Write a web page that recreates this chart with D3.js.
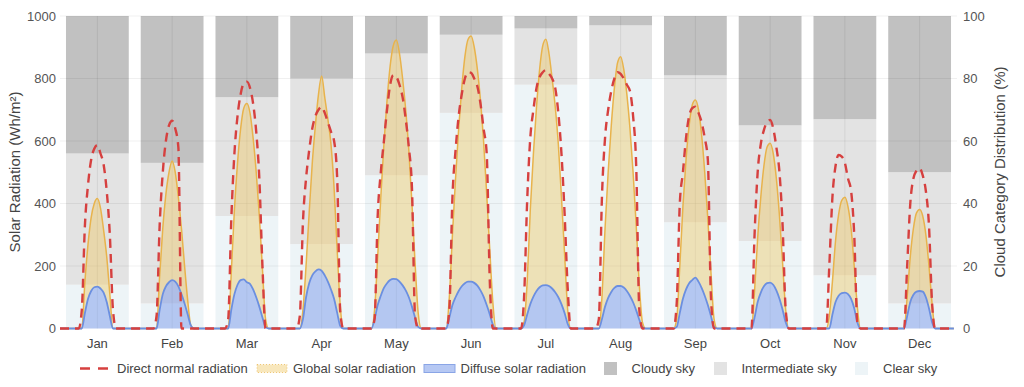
<!DOCTYPE html>
<html><head><meta charset="utf-8">
<script src="https://cdn.jsdelivr.net/npm/d3@7"></script>
<style>
body{margin:0;background:#fff;}
text{font-family:Arial,"Liberation Sans",Helvetica,sans-serif;}
</style>
</head><body>
<svg id="c" width="1024" height="387"></svg>
<script>
const months = ["Jan","Feb","Mar","Apr","May","Jun","Jul","Aug","Sep","Oct","Nov","Dec"];
const radTicks = [0,200,400,600,800,1000];
const pctTicks = [0,20,40,60,80,100];

// Cloud category distribution (%)
const clearSky = [14,8,36,27,49,69,78,80,34,28,17,8];
const intermediateSky = [42,45,38,53,39,25,18,17,47,37,50,42];
const cloudySky = [44,47,26,20,12,6,4,3,19,35,33,50];

// Average daily profiles, hours 0..23 (Wh/m²)
const globalRad = [
 [0,0,0,0,0,0,0,0,150,270,355,400,416,385,315,230,110,0,0,0,0,0,0,0],
 [0,0,0,0,0,0,0,0,170,320,430,500,536,500,420,320,200,90,10,0,0,0,0,0],
 [0,0,0,0,0,0,0,180,380,530,640,705,720,690,610,500,360,190,30,0,0,0,0,0],
 [0,0,0,0,0,0,60,200,370,530,650,750,808,740,670,590,450,250,70,0,0,0,0,0],
 [0,0,0,0,0,60,230,420,590,730,840,905,923,880,800,700,570,400,210,50,0,0,0,0],
 [0,0,0,0,0,100,300,480,640,770,870,925,936,900,830,730,600,430,250,80,0,0,0,0],
 [0,0,0,0,0,20,150,380,560,710,830,905,926,880,800,710,590,420,240,60,0,0,0,0],
 [0,0,0,0,0,0,100,320,500,650,770,850,870,830,750,640,500,330,140,20,0,0,0,0],
 [0,0,0,0,0,0,30,200,390,540,650,715,731,700,620,500,350,180,30,0,0,0,0,0],
 [0,0,0,0,0,0,0,120,290,420,520,580,593,560,480,360,210,60,0,0,0,0,0,0],
 [0,0,0,0,0,0,0,40,150,280,365,410,420,390,320,200,70,0,0,0,0,0,0,0],
 [0,0,0,0,0,0,0,0,100,230,320,370,381,360,300,200,80,0,0,0,0,0,0,0]
];
const diffuseRad = [
 [0,0,0,0,0,0,0,0,50,95,120,132,134,128,115,85,40,0,0,0,0,0,0,0],
 [0,0,0,0,0,0,0,0,60,110,135,148,155,150,135,110,80,45,10,0,0,0,0,0],
 [0,0,0,0,0,0,0,60,110,140,155,157,148,143,125,100,70,35,5,0,0,0,0,0],
 [0,0,0,0,0,0,30,100,145,170,183,189,185,170,150,125,95,50,8,0,0,0,0,0],
 [0,0,0,0,0,30,75,105,130,145,155,159,158,150,138,122,100,70,35,5,0,0,0,0],
 [0,0,0,0,0,35,75,100,120,135,145,150,150,146,137,122,102,75,45,12,0,0,0,0],
 [0,0,0,0,0,10,45,78,102,120,132,138,139,136,128,116,100,78,50,15,0,0,0,0],
 [0,0,0,0,0,0,30,70,98,117,130,136,136,131,120,104,84,58,28,4,0,0,0,0],
 [0,0,0,0,0,0,5,50,95,125,145,155,163,150,130,105,75,40,5,0,0,0,0,0],
 [0,0,0,0,0,0,0,35,85,115,135,145,147,140,122,95,60,20,0,0,0,0,0,0],
 [0,0,0,0,0,0,0,0,45,85,105,113,115,110,95,65,20,0,0,0,0,0,0,0],
 [0,0,0,0,0,0,0,0,40,85,108,118,120,118,100,65,20,0,0,0,0,0,0,0]
];
const directNormalRad = [
 [0,0,0,0,0,0,0,60,330,460,540,575,587,560,525,440,300,60,0,0,0,0,0,0],
 [0,0,0,0,0,0,0,40,330,500,600,650,665,640,580,0,0,0,0,0,0,0,0,0],
 [0,0,0,0,0,0,30,350,560,680,750,785,790,770,720,630,480,200,0,0,0,0,0,0],
 [0,0,0,0,0,40,340,480,570,640,680,700,710,690,660,630,600,480,50,0,0,0,0,0],
 [0,0,0,0,0,30,360,500,600,700,780,811,805,780,740,670,580,450,40,0,0,0,0,0],
 [0,0,0,0,0,60,420,570,680,750,800,820,818,800,775,720,640,560,150,0,0,0,0,0],
 [0,0,0,0,0,100,410,610,700,770,805,820,827,815,800,770,690,560,370,130,0,0,0,0],
 [0,0,0,0,0,30,420,610,700,760,800,820,815,800,780,760,680,520,60,0,0,0,0,0],
 [0,0,0,0,0,0,80,400,500,610,680,705,710,690,660,610,540,100,0,0,0,0,0,0],
 [0,0,0,0,0,0,0,300,500,590,635,660,667,640,580,500,330,60,0,0,0,0,0,0],
 [0,0,0,0,0,0,0,200,420,520,555,550,530,480,440,300,20,0,0,0,0,0,0,0],
 [0,0,0,0,0,0,0,0,200,400,480,505,513,490,440,330,80,0,0,0,0,0,0,0]
];

const svg = d3.select("#c");
const X0 = 60, X1 = 957, Y0 = 328.5, Y1 = 16;
const x = d3.scaleBand().domain(months).range([X0, X1]).paddingInner(0.16).paddingOuter(0.08);
const y = d3.scaleLinear().domain([0,1000]).range([Y0, Y1]);
const yR = d3.scaleLinear().domain([0,100]).range([Y0, Y1]);
const xh = d3.scaleLinear().domain([0, 288]).range([X0, X1]);

// stacked cloud bars
const rows = months.map((m,i)=>({month:m, clear:clearSky[i], intermediate:intermediateSky[i], cloudy:cloudySky[i]}));
const stack = d3.stack().keys(["clear","intermediate","cloudy"])(rows);
const barColor = {clear:"#edf4f7", intermediate:"#e3e3e3", cloudy:"#c1c1c1"};
svg.append("g").selectAll("g").data(stack).join("g")
  .attr("fill", d=>barColor[d.key])
  .selectAll("rect").data(d=>d).join("rect")
  .attr("x", d=>x(d.data.month)).attr("width", x.bandwidth())
  .attr("y", d=>yR(d[1])).attr("height", d=>yR(d[0])-yR(d[1]));

// grid
const grid = svg.append("g");
grid.selectAll("line.h").data(radTicks.slice(1)).join("line")
  .attr("x1", X0).attr("x2", X1).attr("y1", d=>y(d)).attr("y2", d=>y(d))
  .attr("stroke", "rgba(0,0,0,0.06)").attr("stroke-width", 1);
grid.selectAll("line.v").data(months).join("line")
  .attr("x1", d=>x(d)+x.bandwidth()/2).attr("x2", d=>x(d)+x.bandwidth()/2)
  .attr("y1", Y1).attr("y2", Y0)
  .attr("stroke", "rgba(0,0,0,0.07)").attr("stroke-width", 1);

// hourly series flattened
const flat = arr => arr.flatMap((day, mi) => day.map((v, h) => ({i: mi*24 + h, v})));
const gData = flat(globalRad), dData = flat(diffuseRad), nData = flat(directNormalRad);
const gdData = gData.map((d,k)=>({i:d.i, v:d.v, lo:dData[k].v}));

const area = d3.area().x(d=>xh(d.i)).y0(y(0)).y1(d=>y(d.v)).curve(d3.curveMonotoneX);
const bandArea = d3.area().x(d=>xh(d.i)).y0(d=>y(d.lo)).y1(d=>y(d.v)).curve(d3.curveMonotoneX);
const line = d3.line().x(d=>xh(d.i)).y(d=>y(d.v)).curve(d3.curveMonotoneX);

svg.append("path").datum(gdData).attr("d", bandArea).attr("fill", "rgba(238,198,95,0.42)");
svg.append("path").datum(dData).attr("d", area).attr("fill", "rgba(110,145,232,0.45)");
svg.append("path").datum(gData).attr("d", line).attr("fill", "none").attr("stroke", "#e8b34c").attr("stroke-width", 1.5);
svg.append("path").datum(dData).attr("d", line).attr("fill", "none").attr("stroke", "#6b8fe0").attr("stroke-width", 1.8);
svg.append("path").datum(nData).attr("d", line).attr("fill", "none").attr("stroke", "#d6403f")
  .attr("stroke-width", 2.4).attr("stroke-dasharray", "9,6");

// axes
const textCol = "#555";
const lAxis = svg.append("g").attr("transform", `translate(${X0},0)`)
  .call(d3.axisLeft(y).tickValues(radTicks).tickFormat(d3.format("d")).tickSize(0).tickPadding(4));
lAxis.select(".domain").remove();
lAxis.selectAll("text").attr("font-size", 13).attr("fill", textCol);
const rAxis = svg.append("g").attr("transform", `translate(${X1},0)`)
  .call(d3.axisRight(yR).tickValues(pctTicks).tickFormat(d3.format("d")).tickSize(0).tickPadding(6));
rAxis.select(".domain").remove();
rAxis.selectAll("text").attr("font-size", 13).attr("fill", textCol);
const bAxis = svg.append("g").attr("transform", `translate(0,${Y0})`)
  .call(d3.axisBottom(x).tickSize(0).tickPadding(10));
bAxis.select(".domain").remove();
bAxis.selectAll("text").attr("font-size", 13).attr("fill", "#444");

svg.append("text").attr("transform", "translate(20,172) rotate(-90)").attr("text-anchor","middle")
  .attr("font-size", 15).attr("fill", "#444").text("Solar Radiation (Wh/m²)");
svg.append("text").attr("transform", "translate(1005,172) rotate(-90)").attr("text-anchor","middle")
  .attr("font-size", 15).attr("fill", "#444").text("Cloud Category Distribution (%)");

// legend
const lg = svg.append("g");
const ly = 368.5;
lg.append("line").attr("x1", 80).attr("x2", 109).attr("y1", ly).attr("y2", ly)
  .attr("stroke", "#d6403f").attr("stroke-width", 2.4).attr("stroke-dasharray", "10,8");
lg.append("rect").attr("x", 257).attr("y", ly-4).attr("width", 30).attr("height", 8)
  .attr("fill", "rgba(238,198,95,0.42)").attr("stroke", "rgba(232,179,76,0.7)").attr("stroke-dasharray","1,2");
lg.append("rect").attr("x", 424).attr("y", ly-4).attr("width", 31).attr("height", 8)
  .attr("fill", "rgba(110,145,232,0.5)").attr("stroke", "#8aa5e6");
lg.append("rect").attr("x", 604).attr("y", ly-6.5).attr("width", 13).attr("height", 13).attr("fill", barColor.cloudy);
lg.append("rect").attr("x", 714).attr("y", ly-6.5).attr("width", 13).attr("height", 13).attr("fill", barColor.intermediate);
lg.append("rect").attr("x", 855).attr("y", ly-6.5).attr("width", 13).attr("height", 13).attr("fill", barColor.clear);
const legendTexts = [[117,"Direct normal radiation"],[293,"Global solar radiation"],[460.5,"Diffuse solar radiation"],
  [631.5,"Cloudy sky"],[741.5,"Intermediate sky"],[883,"Clear sky"]];
lg.selectAll("text").data(legendTexts).join("text")
  .attr("x", d=>d[0]).attr("y", 373).attr("font-size", 13).attr("fill", "#444").text(d=>d[1]);
</script>
</body></html>
